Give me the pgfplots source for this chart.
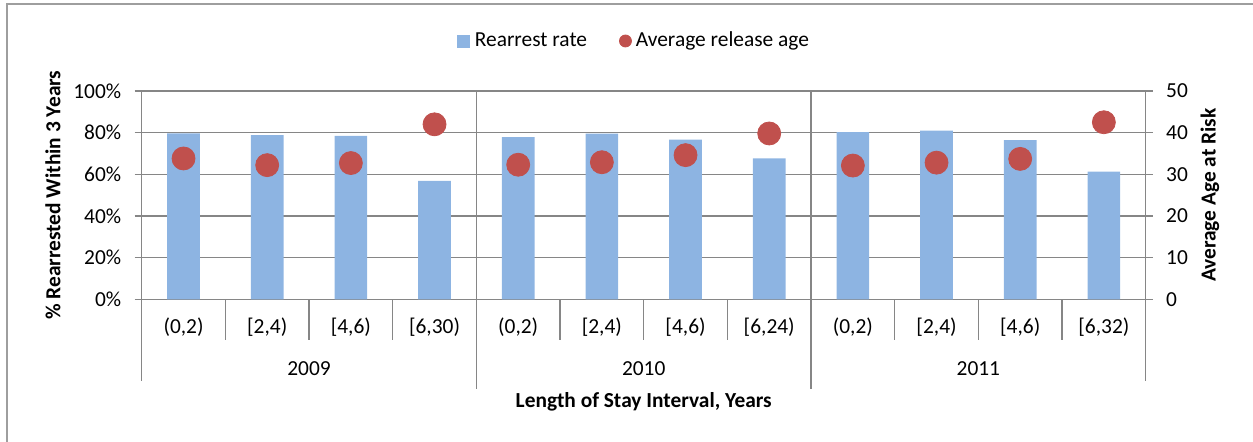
\documentclass[border=0pt]{standalone}
\usepackage{fontspec}
\setmainfont{Carlito}
\usepackage{pgfplots}
\pgfplotsset{compat=1.18}

\definecolor{barblue}{RGB}{141,180,226}
\definecolor{dotred}{RGB}{192,80,77}
\definecolor{axgray}{RGB}{134,134,134}

\newcommand{\tfont}{\fontsize{10.7}{12.8}\selectfont}

\pgfplotsset{
    chartbase/.style={
        scale only axis,
        width=502pt,
        height=104.15pt,
        at={(70.85pt,71.35pt)},
        anchor=south west,
        xmin=-0.5, xmax=11.5,
        axis line style={axgray, line width=0.6pt},
        tick style={axgray, line width=0.6pt},
        tick align=outside,
        major tick length=3.5pt,
        tick label style={font=\tfont, text=black},
        /pgf/number format/assume math mode=true,
        clip=false,
    },
}

\begin{document}
\begin{tikzpicture}
    \path[use as bounding box] (0,0) rectangle (626.5pt,221pt);
    % chart frame (only top and left edges are inside the picture)
    \draw[axgray!80, line width=0.8pt] (3.35pt,0) -- (3.35pt,219pt) -- (626.5pt,219pt);

    % rearrest rate bars (left axis)
    \begin{axis}[
            chartbase,
            ybar,
            bar width=0.39,
            ymin=0, ymax=100,
            axis x line*=bottom,
            axis y line*=left,
            ytick={0,20,...,100},
            yticklabel={\pgfmathprintnumber{\tick}\%},
            yticklabel style={xshift=-3.2pt},
            ymajorgrids,
            grid style={axgray, line width=0.6pt},
            xtick={0,...,11},
            xticklabels={{(0,2)},{[2,4)},{[4,6)},{[6,30)},
                    {(0,2)},{[2,4)},{[4,6)},{[6,24)},
                    {(0,2)},{[2,4)},{[4,6)},{[6,32)}},
            x tick style={draw=none},
            xticklabel style={anchor=center, yshift=-10.2pt},
            ylabel={\% Rearrested Within 3 Years},
            every axis y label/.style={at={(axis description cs:-0.0883,0.5)}, rotate=90, anchor=center, font=\tfont\bfseries},
            xlabel={Length of Stay Interval, Years},
            every axis x label/.style={at={(axis description cs:0.5,0)}, anchor=center, yshift=-51.2pt, font=\tfont\bfseries},
        ]

        \addplot[fill=barblue, draw=none] coordinates {
                (0,79.6) (1,78.8) (2,78.4) (3,56.9)
                (4,77.8) (5,79.5) (6,76.6) (7,67.6)
                (8,80.2) (9,81.0) (10,76.4) (11,61.3)
            };

        % category separators below the axis
        \pgfplotsinvokeforeach{0.5,1.5,2.5,4.5,5.5,6.5,8.5,9.5,10.5}{
            \draw[axgray, line width=0.6pt] (axis cs:#1,0) -- ++(0pt,-20.35pt);
        }
        % outer edges
        \draw[axgray, line width=0.6pt] (axis cs:-0.5,0) -- ++(0pt,-40.7pt);
        \draw[axgray, line width=0.6pt] (axis cs:11.5,0) -- ++(0pt,-40.7pt);
        % year boundaries
        \pgfplotsinvokeforeach{3.5,7.5}{
            \draw[axgray, line width=0.6pt] (axis cs:#1,100) -- (axis cs:#1,0) -- ++(0pt,-44.85pt);
        }
        % year labels
        \node[font=\tfont] at ([yshift=-34.85pt]axis cs:1.5,0) {2009};
        \node[font=\tfont] at ([yshift=-34.85pt]axis cs:5.5,0) {2010};
        \node[font=\tfont] at ([yshift=-34.85pt]axis cs:9.5,0) {2011};
    \end{axis}

    % average release age (right axis)
    \begin{axis}[
            chartbase,
            ymin=0, ymax=50,
            axis x line=none,
            axis y line*=right,
            ytick={0,10,...,50},
            yticklabel style={xshift=3.2pt},
            ylabel={Average Age at Risk},
            every axis y label/.style={at={(axis description cs:1.064,0.5)}, rotate=90, anchor=center, font=\tfont\bfseries},
            legend style={
                    at={(axis description cs:0.4913,1.24)}, anchor=center,
                    draw=none, fill=none, font=\tfont,
                    legend columns=2,
                    /tikz/every even column/.append style={column sep=14pt},
                },
        ]
        \addlegendimage{legend image code/.code={\fill[barblue] (0pt,-3pt) rectangle (6pt,3pt); \path (6.5pt,0pt);}}
        \addlegendentry{Rearrest rate}

        \addplot[only marks, mark=*, mark size=5.75pt, color=dotred,
            mark options={fill=dotred, draw=dotred},
            legend image code/.code={\fill[dotred] (3pt,0pt) circle (3pt); \path (6pt,0pt);}]
            coordinates {
                (0,33.8) (1,32.2) (2,32.7) (3,42.0)
                (4,32.3) (5,32.9) (6,34.6) (7,39.8)
                (8,32.1) (9,32.8) (10,33.7) (11,42.5)
            };
        \addlegendentry{Average release age}
    \end{axis}
\end{tikzpicture}
\end{document}
